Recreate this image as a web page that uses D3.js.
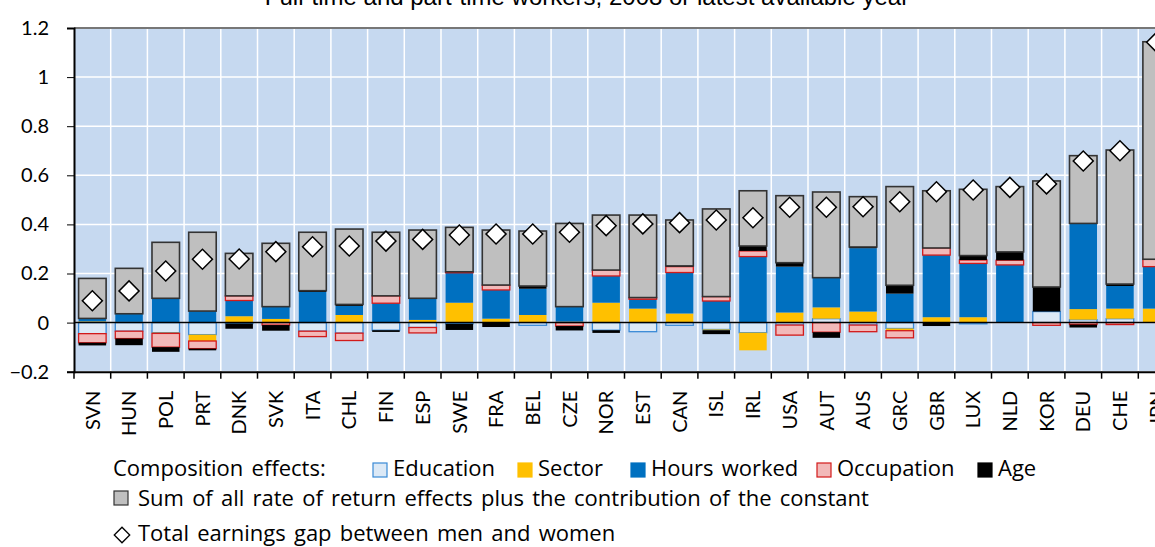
<!DOCTYPE html>
<html>
<head>
<meta charset="utf-8">
<script src="https://cdn.jsdelivr.net/npm/d3@7"></script>
<style>
  body { margin: 0; background: #fff; overflow: hidden; }
  text { font-family: Lato, "Open Sans", sans-serif; fill: #000; }
</style>
</head>
<body>
<div id="chart"></div>
<script>
const countries = ["SVN","HUN","POL","PRT","DNK","SVK","ITA","CHL","FIN","ESP","SWE","FRA","BEL","CZE","NOR",
  "EST","CAN","ISL","IRL","USA","AUT","AUS","GRC","GBR","LUX","NLD","KOR","DEU","CHE","JPN"];

// composition effects
const education  = [-0.045,-0.035,-0.041,-0.049,-0.004,0,-0.035,-0.043,-0.031,-0.020,-0.005,0,-0.011,0,-0.031,
  -0.037,-0.011,-0.028,-0.041,-0.010,0.016,-0.010,-0.024,0,-0.005,0,0.045,0.012,0.016,0];
const sector     = [0.005,0.003,-0.003,-0.026,0.026,0.015,0,0.031,0,0.011,0.081,0.016,0.031,0.004,0.081,
  0.057,0.037,-0.003,-0.072,0.041,0.046,0.045,-0.009,0.022,0.022,0,0,0.043,0.041,0.057];
const hours      = [0.012,0.033,0.099,0.047,0.064,0.050,0.125,0.037,0.079,0.088,0.122,0.117,0.107,0.061,0.109,
  0.038,0.167,0.088,0.269,0.187,0.121,0.258,0.118,0.253,0.219,0.235,0,0.349,0.092,0.171];
const occupation = [-0.037,-0.030,-0.056,-0.031,0.019,-0.010,-0.022,-0.030,0.030,-0.022,0.004,0.020,0,-0.014,0.024,
  0.007,0.024,0.018,0.023,-0.041,-0.039,-0.027,-0.029,0.029,0.014,0.019,-0.011,-0.008,-0.008,0.030];
const age        = [-0.011,-0.027,-0.019,-0.007,-0.021,-0.023,0.005,0.006,-0.007,0,-0.025,-0.018,0.011,-0.018,-0.011,
  0,0.003,-0.016,0.020,0.016,-0.023,0.005,0.034,-0.014,0.018,0.034,0.100,-0.012,0.008,0];
// rate of return effects + constant
const returns    = [0.163,0.185,0.228,0.321,0.173,0.258,0.238,0.307,0.259,0.278,0.181,0.224,0.224,0.339,0.224,
  0.336,0.187,0.357,0.225,0.273,0.349,0.205,0.402,0.233,0.270,0.266,0.432,0.276,0.546,0.886];
// total earnings gap
const totalGap   = [0.089,0.129,0.210,0.258,0.259,0.289,0.309,0.312,0.332,0.339,0.357,0.361,0.361,0.368,0.395,
  0.402,0.407,0.418,0.427,0.470,0.470,0.472,0.492,0.533,0.540,0.551,0.565,0.658,0.700,1.142];

const yTicks = [-0.2, 0, 0.2, 0.4, 0.6, 0.8, 1, 1.2];

const width = 1155, height = 547;
const plotLeft = 74, plotRight = 1175, plotTop = 28, plotBottom = 371.7;

const series = [
  { key: "education",  label: "Education",    fill: "#dce9f6", stroke: "#3a8ad6" },
  { key: "sector",     label: "Sector",       fill: "#ffc000", stroke: "none" },
  { key: "hours",      label: "Hours worked", fill: "#0070c0", stroke: "none" },
  { key: "occupation", label: "Occupation",   fill: "#f2b9b9", stroke: "#d21a1a" },
  { key: "age",        label: "Age",          fill: "#000000", stroke: "none" },
  { key: "returns",    label: "Sum of all rate of return effects plus the contribution of the constant",
    fill: "#bfbfbf", stroke: "#333333" }
];

const rows = countries.map((c, i) => ({
  country: c,
  education: education[i], sector: sector[i], hours: hours[i],
  occupation: occupation[i], age: age[i], returns: returns[i], total: totalGap[i]
}));

const svg = d3.select("#chart").append("svg")
  .attr("width", width)
  .attr("height", height);

const x = d3.scaleBand()
  .domain(countries)
  .range([plotLeft, plotRight])
  .paddingInner(0.25)
  .paddingOuter(0.125);

const y = d3.scaleLinear()
  .domain([-0.2, 1.2])
  .range([plotBottom, plotTop]);

const step = x.step();

// plot background
svg.append("rect")
  .attr("x", plotLeft).attr("y", plotTop)
  .attr("width", plotRight - plotLeft).attr("height", plotBottom - plotTop)
  .attr("fill", "#c6d9f0");

// grid
svg.append("g").selectAll("line")
  .data(yTicks)
  .enter().append("line")
  .attr("x1", plotLeft).attr("x2", plotRight)
  .attr("y1", d => y(d)).attr("y2", d => y(d))
  .attr("stroke", "#fff").attr("stroke-width", 1.5);

const bounds = countries.slice(1).map(c => x(c) - step * x.paddingInner() / 2);
svg.append("g").selectAll("line")
  .data(bounds)
  .enter().append("line")
  .attr("x1", d => d).attr("x2", d => d)
  .attr("y1", plotTop).attr("y2", plotBottom)
  .attr("stroke", "#fff").attr("stroke-width", 1.5);

// stacked bars
const stack = d3.stack()
  .keys(series.map(s => s.key))
  .offset(d3.stackOffsetDiverging);

const layers = svg.append("g").selectAll("g")
  .data(stack(rows))
  .enter().append("g")
  .attr("fill", (d, i) => series[i].fill)
  .attr("stroke", (d, i) => series[i].stroke)
  .attr("stroke-width", (d, i) => series[i].key === "returns" ? 1.6 : 1.3);

layers.selectAll("rect")
  .data(d => d.filter(v => v[1] - v[0] !== 0))
  .enter().append("rect")
  .attr("x", d => x(d.data.country))
  .attr("width", x.bandwidth())
  .attr("y", d => y(d[1]))
  .attr("height", d => y(d[0]) - y(d[1]));

// zero line
svg.append("line")
  .attr("x1", plotLeft).attr("x2", plotRight)
  .attr("y1", y(0)).attr("y2", y(0))
  .attr("stroke", "#000").attr("stroke-width", 1.5);

// diamonds
const diamond = d3.symbol().type(d3.symbolSquare).size(200);
svg.append("g").selectAll("path")
  .data(rows)
  .enter().append("path")
  .attr("d", diamond)
  .attr("transform", d => `translate(${x(d.country) + x.bandwidth() / 2},${y(d.total)}) rotate(45)`)
  .attr("fill", "#fff")
  .attr("stroke", "#000")
  .attr("stroke-width", 1.5);

// axes
svg.append("line")
  .attr("x1", plotLeft).attr("x2", plotRight)
  .attr("y1", plotTop).attr("y2", plotTop)
  .attr("stroke", "#777").attr("stroke-width", 2);

const yAxis = svg.append("g")
  .attr("transform", `translate(${plotLeft},0)`)
  .call(d3.axisLeft(y).tickValues(yTicks).tickSize(7).tickPadding(18)
    .tickFormat(d => d3.format("")(+d.toFixed(1))));
yAxis.select(".domain").attr("stroke-width", 2);
yAxis.selectAll("text").style("font-size", "20px");

const xAxis = svg.append("g")
  .attr("transform", `translate(0,${plotBottom})`)
  .call(d3.axisBottom(x).tickSize(0).tickPadding(0));
xAxis.select(".domain").attr("stroke-width", 2);
xAxis.selectAll("text")
  .style("font-size", "20px")
  .attr("text-anchor", "end")
  .attr("transform", "rotate(-90)")
  .attr("x", -19)
  .attr("y", 0)
  .attr("dy", "0.36em");

svg.append("g").selectAll("line")
  .data(bounds.concat([plotLeft]))
  .enter().append("line")
  .attr("x1", d => d).attr("x2", d => d)
  .attr("y1", plotBottom).attr("y2", plotBottom + 7)
  .attr("stroke", "#000").attr("stroke-width", 1.5);

// title
svg.append("text")
  .attr("x", 587).attr("y", 5)
  .attr("text-anchor", "middle")
  .style("font-family", "'Liberation Sans', Arial, sans-serif")
  .style("font-size", "24px")
  .text("Full-time and part-time workers, 2008 or latest available year");

// legend
const legend = svg.append("g")
  .style("font-size", "22px")
  .style("word-spacing", "2.5px");
legend.append("text").attr("x", 113).attr("y", 476).text("Composition effects:");

const legendX = [373, 518, 631, 817, 978];
series.slice(0, 5).forEach((s, i) => {
  legend.append("rect")
    .attr("x", legendX[i]).attr("y", 463)
    .attr("width", 14).attr("height", 14)
    .attr("fill", s.fill)
    .attr("stroke", s.stroke === "none" ? s.fill : s.stroke)
    .attr("stroke-width", 1.2);
  legend.append("text").attr("x", legendX[i] + 20).attr("y", 476).text(s.label);
});

legend.append("rect")
  .attr("x", 114).attr("y", 491).attr("width", 14).attr("height", 14)
  .attr("fill", series[5].fill).attr("stroke", series[5].stroke).attr("stroke-width", 1.2);
legend.append("text").attr("x", 138).attr("y", 506).text(series[5].label);

legend.append("path")
  .attr("d", d3.symbol().type(d3.symbolSquare).size(120))
  .attr("transform", "translate(122,535) rotate(45)")
  .attr("fill", "#fff").attr("stroke", "#000").attr("stroke-width", 1.3);
legend.append("text").attr("x", 138).attr("y", 541).text("Total earnings gap between men and women");

legend.selectAll("text").style("font-family", "'Open Sans', Lato, sans-serif");
</script>
</body>
</html>
